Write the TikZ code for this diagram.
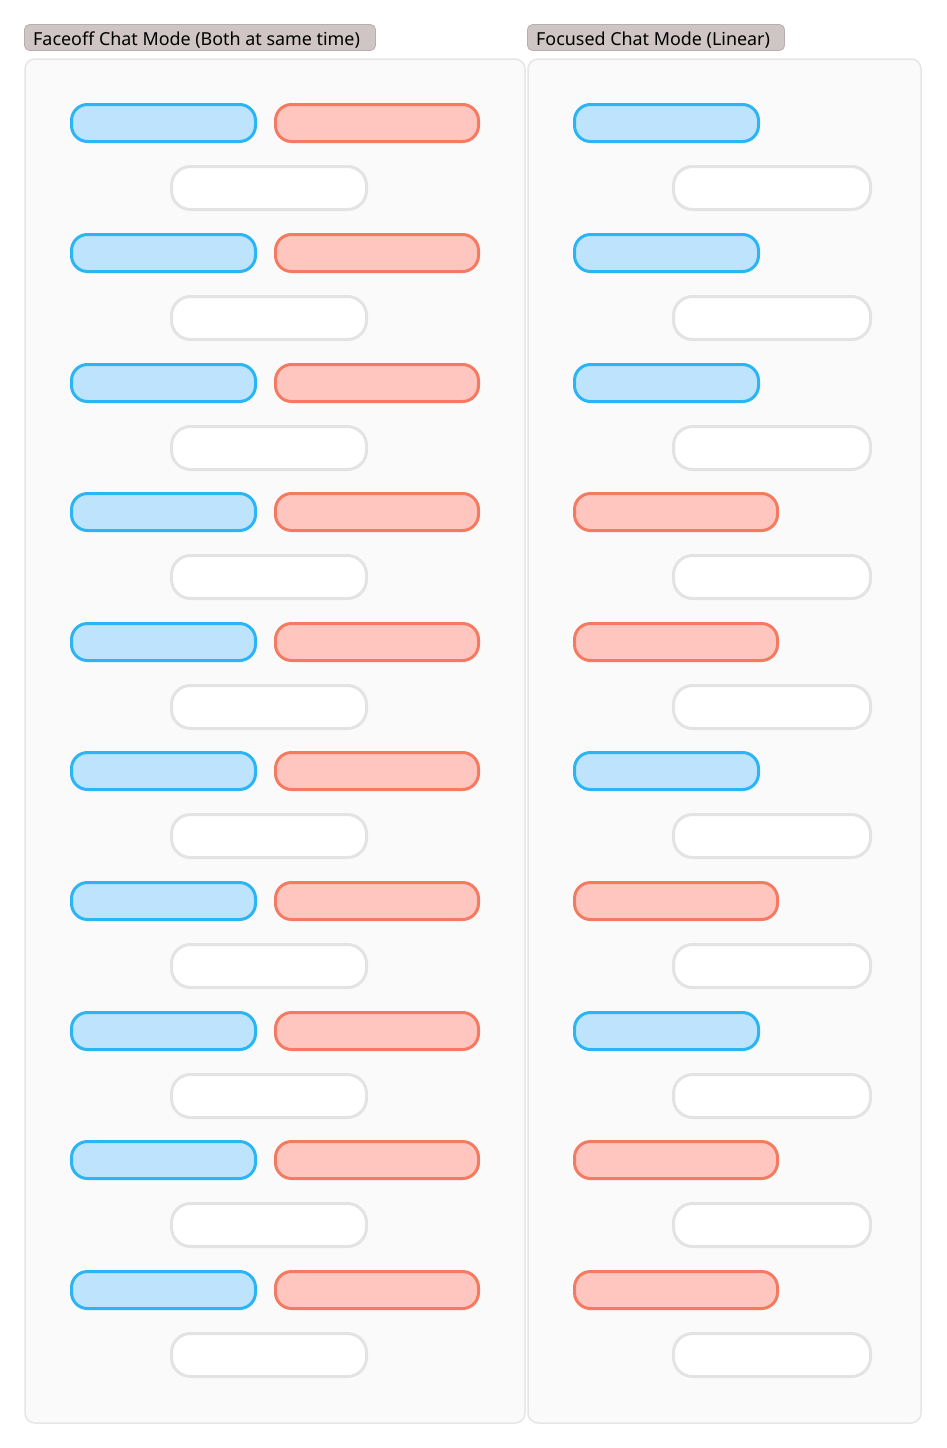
\documentclass[tikz,border=0pt]{standalone}
\usepackage{fontspec}
\setmainfont{Noto Sans}
\definecolor{bstroke}{HTML}{2BB5F5}
\definecolor{bfill}{HTML}{BDE4FC}
\definecolor{rstroke}{HTML}{F57A62}
\definecolor{rfill}{HTML}{FFC6C0}
\definecolor{wstroke}{HTML}{E3E3E3}
\definecolor{pfill}{HTML}{FAFAFA}
\definecolor{pstroke}{HTML}{E6E6E6}
\definecolor{hfill}{HTML}{CFC5C5}
\definecolor{hstroke}{HTML}{B8AEAE}
\begin{document}
\begin{tikzpicture}[x=1pt,y=-1pt,
  bubble/.style={draw, line width=3pt, rounded corners=16pt, inner sep=0pt, minimum height=37pt},
  bluebox/.style={bubble, draw=bstroke, fill=bfill, minimum width=184pt},
  redbox/.style={bubble, draw=rstroke, fill=rfill, minimum width=203pt},
  whitebox/.style={bubble, draw=wstroke, fill=white, minimum height=43pt, minimum width=195pt, rounded corners=19pt},
  panel/.style={draw=pstroke, fill=pfill, line width=1.5pt, rounded corners=10pt},
  header/.style={draw=hstroke, fill=hfill, line width=0.8pt, rounded corners=5pt},
  headtext/.style={anchor=west, inner sep=0pt, font=\fontsize{17.9}{20}\selectfont, text=black}
]
\useasboundingbox (0,0) rectangle (946,1448);
\fill[white] (0,0) rectangle (946,1448);
% panels
\draw[panel] (25,59) rectangle (525,1423);
\draw[panel] (528,59) rectangle (921,1423);
% headers
\draw[header] (24.5,24.5) rectangle (375.5,50.5);
\node[headtext] (h1) at (33,40) {Faceoff Chat Mode (Both at same time)};
\draw[header] (527.5,24.5) rectangle (784.5,50.5);
\node[headtext] (h2) at (536,40) {Focused Chat Mode (Linear)};
% left panel rows
\foreach \i/\yc/\yw in {1/123/188,2/253/318,3/383/448,4/512/577,5/642/707,6/771/836,7/901/966,8/1031/1096,9/1160/1225,10/1290/1355}{
  \node[bluebox] (lb\i) at (163.5,\yc) {};
  \node[redbox] (lr\i) at (377,\yc) {};
  \node[whitebox] (lw\i) at (269,\yw) {};
}
% right panel rows
\foreach \i/\yc/\yw/\kind/\xc in {1/123/188/bluebox/666.5,2/253/318/bluebox/666.5,3/383/448/bluebox/666.5,4/512/577/redbox/676,5/642/707/redbox/676,6/771/836/bluebox/666.5,7/901/966/redbox/676,8/1031/1096/bluebox/666.5,9/1160/1225/redbox/676,10/1290/1355/redbox/676}{
  \node[\kind] (rm\i) at (\xc,\yc) {};
  \node[whitebox, minimum width=197pt] (rw\i) at (772,\yw) {};
}
\end{tikzpicture}
\end{document}
